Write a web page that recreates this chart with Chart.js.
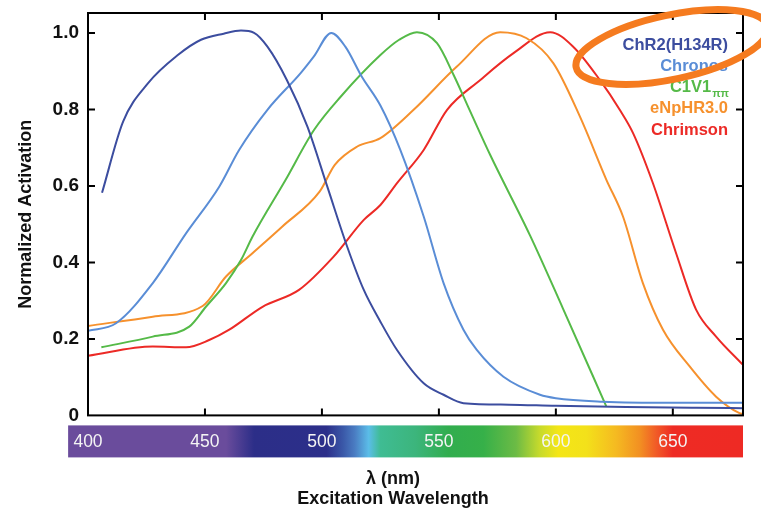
<!DOCTYPE html>
<html>
<head>
<meta charset="utf-8">
<script src="https://cdn.jsdelivr.net/npm/chart.js@4.4.1/dist/chart.umd.min.js"></script>
<style>
  html, body { margin: 0; padding: 0; background: #ffffff; }
  #wrap { width: 761px; height: 515px; position: relative; }
</style>
</head>
<body>
<div id="wrap"><canvas id="c" width="761" height="515"></canvas></div>
<script>
// ---------------- data ----------------
const X_TICKS = [400, 450, 500, 550, 600, 650];
const Y_TICKS = [0, 0.2, 0.4, 0.6, 0.8, 1.0];

const CHR2_NM  = [406, 415, 425.6, 438.4, 448.3, 458, 465.4, 471, 476.7, 485, 493.8, 502.3, 510.8, 517.9, 525, 532.1, 543.5, 552, 560.5, 580, 600, 630, 660, 680];
const CHR2_VAL = [0.582, 0.768, 0.868, 0.942, 0.982, 0.998, 1.006, 1.0, 0.964, 0.877, 0.755, 0.598, 0.441, 0.328, 0.245, 0.171, 0.084, 0.054, 0.032, 0.028, 0.025, 0.022, 0.02, 0.019];

const CHRONOS_NM  = [400, 412, 427.7, 441.9, 456.1, 464.6, 476.7, 490.9, 496.5, 504, 510, 517, 525, 533.5, 543.5, 552, 560.5, 566.2, 577.6, 593.2, 600, 620, 650, 680];
const CHRONOS_VAL = [0.221, 0.241, 0.346, 0.476, 0.598, 0.694, 0.799, 0.895, 0.938, 1.0, 0.964, 0.886, 0.81, 0.694, 0.52, 0.346, 0.224, 0.171, 0.101, 0.054, 0.045, 0.036, 0.033, 0.033];

const C1V1_NM  = [405.7, 427.7, 443.3, 450.4, 459, 465.4, 470.3, 484.5, 496.6, 508, 525, 533, 540.6, 549.2, 556.3, 563, 572, 589, 603, 621.6];
const C1V1_VAL = [0.178, 0.206, 0.232, 0.284, 0.346, 0.406, 0.467, 0.616, 0.746, 0.833, 0.942, 0.982, 1.002, 0.973, 0.89, 0.8, 0.68, 0.47, 0.28, 0.023];

const NPHR_NM  = [400, 427.7, 449, 459, 470.3, 483.1, 499, 505.5, 515.1, 525, 539.2, 557.7, 576.2, 587.5, 598.9, 610.3, 621.6, 628.7, 637.2, 645.8, 657.2, 668.5, 678.5, 680];
const NPHR_VAL = [0.234, 0.258, 0.286, 0.363, 0.424, 0.494, 0.585, 0.655, 0.703, 0.725, 0.799, 0.912, 1.002, 0.986, 0.921, 0.781, 0.616, 0.52, 0.346, 0.224, 0.128, 0.049, 0.006, 0.004];

const CHRIMSON_NM  = [400, 427.7, 441.9, 451.8, 460.4, 474.6, 490.2, 505, 517.9, 525, 532.1, 543.5, 553.5, 567.7, 581.9, 597.6, 607.4, 618.8, 627.3, 633, 641.5, 651.4, 660, 668.5, 680];
const CHRIMSON_VAL = [0.156, 0.18, 0.178, 0.197, 0.224, 0.284, 0.328, 0.415, 0.511, 0.55, 0.607, 0.694, 0.799, 0.877, 0.947, 1.002, 0.964, 0.877, 0.799, 0.738, 0.607, 0.424, 0.276, 0.206, 0.132];

const SERIES_LABELS = ['ChR2(H134R)', 'Chronos', 'C1V1_ππ', 'eNpHR3.0', 'Chrimson'];
const SERIES_COLORS = ['#3c4d9f', '#5a8dd6', '#55ba48', '#f6912d', '#ec2a26'];

// spectrum colour bar (wavelength stops and colours)
const SPECTRUM_NM     = [391.5, 459, 471, 502, 509, 514, 520, 525, 540, 554, 569, 583, 593, 601, 613, 626, 636, 643, 650, 680];
const SPECTRUM_COLORS = ['#6a4c9c', '#6a4c9c', '#2c2e88', '#2c2f8a', '#3a58a8', '#4a7cc2', '#5bbde8', '#3fbc93', '#3cb57c', '#31ad4e', '#36b049', '#6cbb45', '#c6da2c', '#f4e616', '#f3e11a', '#f5b921', '#f28f22', '#f15a27', '#ee2b24', '#ee2a24'];

// ---------------- chart ----------------
const FONT = "'Liberation Sans', Arial, Helvetica, sans-serif";

function pts(xs, ys) { return xs.map((x, i) => ({ x: x, y: ys[i] })); }
const SERIES_DATA = [
  pts(CHR2_NM, CHR2_VAL),
  pts(CHRONOS_NM, CHRONOS_VAL),
  pts(C1V1_NM, C1V1_VAL),
  pts(NPHR_NM, NPHR_VAL),
  pts(CHRIMSON_NM, CHRIMSON_VAL)
];

const datasets = SERIES_LABELS.map((lab, i) => ({
  label: lab,
  data: SERIES_DATA[i],
  borderColor: SERIES_COLORS[i],
  backgroundColor: SERIES_COLORS[i],
  borderWidth: 2,
  pointRadius: 0,
  fill: false,
  cubicInterpolationMode: 'monotone'
}));

const spectrumBar = {
  id: 'spectrumBar',
  beforeDraw(chart) {
    const ctx = chart.ctx;
    const xs = chart.scales.x;
    const a = xs.getPixelForValue(SPECTRUM_NM[0]);
    const b = xs.getPixelForValue(SPECTRUM_NM[SPECTRUM_NM.length - 1]);
    const top = chart.chartArea.bottom + 10;
    const h = 32;
    const g = ctx.createLinearGradient(a, 0, b, 0);
    const span = SPECTRUM_NM[SPECTRUM_NM.length - 1] - SPECTRUM_NM[0];
    SPECTRUM_NM.forEach((nm, i) => g.addColorStop((nm - SPECTRUM_NM[0]) / span, SPECTRUM_COLORS[i]));
    ctx.save();
    ctx.fillStyle = g;
    ctx.fillRect(a, top, b - a, h);
    ctx.restore();
  }
};

const frameAndDecor = {
  id: 'frameAndDecor',
  afterDatasetsDraw(chart) {
    const ctx = chart.ctx;
    const ca = chart.chartArea;
    const xs = chart.scales.x, ys = chart.scales.y;
    ctx.save();
    ctx.strokeStyle = '#000';
    ctx.lineWidth = 2;
    ctx.strokeRect(ca.left, ca.top, ca.right - ca.left, ca.bottom - ca.top);
    ctx.beginPath();
    const tl = 7;
    X_TICKS.forEach(v => {
      const p = xs.getPixelForValue(v);
      if (p <= ca.left + 1) return;
      ctx.moveTo(p, ca.top); ctx.lineTo(p, ca.top + tl);
      ctx.moveTo(p, ca.bottom); ctx.lineTo(p, ca.bottom - tl);
    });
    Y_TICKS.forEach(v => {
      const p = ys.getPixelForValue(v);
      if (p >= ca.bottom - 1) return;
      ctx.moveTo(ca.left, p); ctx.lineTo(ca.left + tl, p);
      ctx.moveTo(ca.right, p); ctx.lineTo(ca.right - tl, p);
    });
    ctx.stroke();
    ctx.restore();
  },
  afterDraw(chart) {
    const ctx = chart.ctx;
    ctx.save();
    // legend: coloured, right-aligned text labels
    const rightX = 728;
    let y = 45;
    chart.data.datasets.forEach(ds => {
      const parts = ds.label.split('_');
      ctx.fillStyle = ds.borderColor;
      ctx.textBaseline = 'middle';
      ctx.textAlign = 'right';
      if (parts.length > 1) {
        ctx.font = 'bold 11px ' + FONT;
        const sw = ctx.measureText(parts[1]).width;
        ctx.fillText(parts[1], rightX + 1, y + 6);
        ctx.font = 'bold 16.5px ' + FONT;
        ctx.fillText(parts[0], rightX + 1 - sw - 1, y);
      } else {
        ctx.font = 'bold 16.5px ' + FONT;
        ctx.fillText(parts[0], rightX, y);
      }
      y += 21.3;
    });
    // orange annotation ellipse
    ctx.beginPath();
    ctx.strokeStyle = '#f57b1f';
    ctx.lineWidth = 7;
    ctx.ellipse(672, 47, 98, 32, -12 * Math.PI / 180, 0, Math.PI * 2);
    ctx.stroke();
    ctx.restore();
  }
};

function noEdgePad(s) { s.paddingTop = 0; s.paddingBottom = 0; }

new Chart(document.getElementById('c'), {
  type: 'line',
  data: { datasets: datasets },
  options: {
    responsive: false,
    animation: false,
    layout: { padding: { left: 25, right: 0, top: 13, bottom: 0 } },
    plugins: {
      legend: { display: false },
      tooltip: { enabled: false },
      title: {
        display: true,
        position: 'bottom',
        text: ['λ (nm)', 'Excitation Wavelength'],
        color: '#111',
        font: { family: FONT, size: 18, weight: 'bold', lineHeight: 1.1 },
        padding: { top: 0, bottom: 6 }
      }
    },
    scales: {
      x: {
        type: 'linear',
        min: 400,
        max: 680,
        grid: { display: false, drawTicks: false },
        border: { display: false },
        afterBuildTicks: s => { s.ticks = X_TICKS.map(v => ({ value: v })); },
        afterFit: s => { s.height = 54; s.paddingLeft = 0; s.paddingRight = 0; },
        ticks: {
          color: '#f4f4f4',
          padding: 16,
          maxRotation: 0,
          autoSkip: false,
          font: { family: FONT, size: 17.5 },
          callback: v => String(v)
        }
      },
      y: {
        type: 'linear',
        position: 'left',
        min: 0,
        max: 1.052,
        grid: { display: false, drawTicks: false },
        border: { display: false },
        afterBuildTicks: s => { s.ticks = Y_TICKS.map(v => ({ value: v })); },
        afterFit: s => { s.width = 63; noEdgePad(s); },
        ticks: {
          color: '#111',
          padding: 9,
          font: { family: FONT, size: 19, weight: 'bold' },
          callback: v => (v === 0 ? '0' : Number(v).toFixed(1))
        },
        title: {
          display: true,
          text: 'Normalized Activation',
          color: '#111',
          font: { family: FONT, size: 18, weight: 'bold', lineHeight: 1.2 },
          padding: { top: -10, bottom: 0 }
        }
      },
      y2: {
        type: 'linear',
        position: 'right',
        min: 0,
        max: 1.052,
        grid: { display: false, drawTicks: false },
        border: { display: false },
        ticks: { display: false },
        afterFit: s => { s.width = 18; noEdgePad(s); }
      }
    }
  },
  plugins: [spectrumBar, frameAndDecor]
});
</script>
</body>
</html>
